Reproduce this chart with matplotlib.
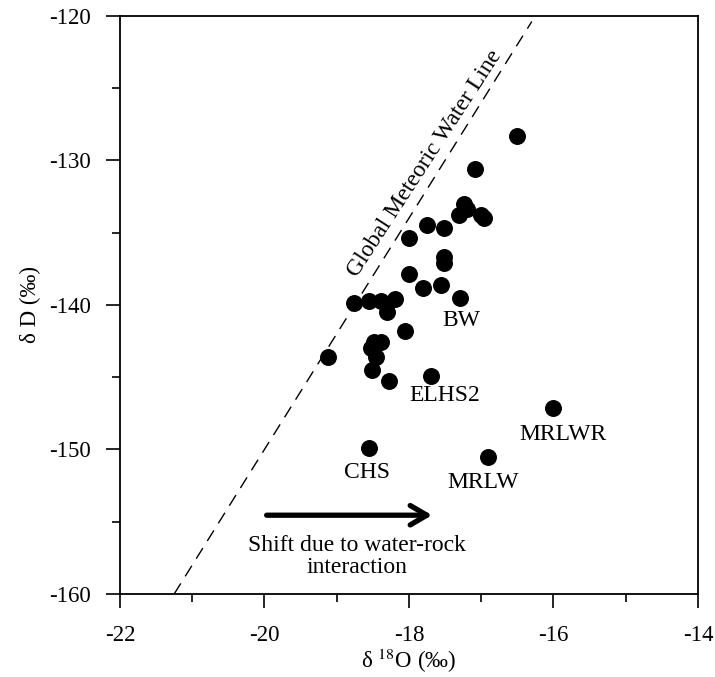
import numpy as np
import matplotlib
matplotlib.use("Agg")
import matplotlib.pyplot as plt
from matplotlib.ticker import MultipleLocator

plt.rcParams["font.family"] = ["Liberation Serif", "DejaVu Serif"]
plt.rcParams["mathtext.fontset"] = "stix"
plt.rcParams["axes.unicode_minus"] = False

# stable isotope samples (permil)
d18o = [-16.50, -17.09, -17.24, -17.20, -17.31, -17.00, -16.96, -17.51, -17.75,
        -18.00, -17.51, -17.51, -18.00, -17.80, -17.56, -17.30, -18.19, -18.39,
        -18.55, -18.76, -18.31, -18.05, -18.49, -18.39, -18.52, -18.45, -18.51,
        -19.12, -18.27, -17.70, -16.00, -18.56, -16.90]
dD = [-128.3, -130.6, -133.0, -133.4, -133.8, -133.8, -134.0, -134.7, -134.5,
      -135.4, -136.7, -137.1, -137.9, -138.8, -138.6, -139.5, -139.6, -139.7,
      -139.7, -139.9, -140.5, -141.8, -142.6, -142.6, -143.0, -143.6, -144.5,
      -143.6, -145.3, -144.9, -147.1, -149.9, -150.5]

# labelled samples: name, x, y of label
labels = ["BW", "ELHS2", "MRLWR", "CHS", "MRLW"]
label_x = [-17.27, -17.51, -15.87, -18.58, -16.97]
label_y = [-141.1, -146.3, -149.0, -151.6, -152.3]

# global meteoric water line dD = 8 d18O + 10
gmwl_x = np.array([-21.25, -16.3])
gmwl_y = 8 * gmwl_x + 10

fig = plt.figure(figsize=(7.15, 6.77), dpi=100)
ax = fig.add_axes([0.1678, 0.1226, 0.8084, 0.8542])

ax.plot(gmwl_x, gmwl_y, color="black", lw=1.0, linestyle=(0, (9, 6)))
ax.scatter(d18o, dD, s=125, color="black", zorder=3)

for name, lx, ly in zip(labels, label_x, label_y):
    ax.text(lx, ly, name, fontsize=17, ha="center", va="center")

ax.text(-17.78, -130.2, "Global Meteoric Water Line", fontsize=17,
        rotation=57, ha="center", va="center", rotation_mode="anchor")

ax.annotate("", xy=(-17.68, -154.55), xytext=(-19.97, -154.55),
            arrowprops=dict(arrowstyle="->,head_length=0.6,head_width=0.35",
                            lw=3.8, color="black", mutation_scale=20,
                            shrinkA=0, shrinkB=0))
ax.text(-18.72, -157.4, "Shift due to water-rock\ninteraction", fontsize=17,
        ha="center", va="center", linespacing=1.1)

ax.set_xlim(-22, -14)
ax.set_ylim(-160, -120)
ax.xaxis.set_major_locator(MultipleLocator(2))
ax.xaxis.set_minor_locator(MultipleLocator(1))
ax.yaxis.set_major_locator(MultipleLocator(10))
ax.yaxis.set_minor_locator(MultipleLocator(5))
ax.tick_params(which="major", direction="out", length=10, width=1.2, labelsize=16.5)
ax.tick_params(axis="x", which="major", pad=12)
ax.tick_params(axis="y", which="major", pad=11)
ax.tick_params(which="minor", direction="out", length=5.5, width=1.2)
for sp in ax.spines.values():
    sp.set_linewidth(1.3)

ax.set_xlabel(r"δ $^{18}$O (‰)", fontsize=16.5, labelpad=1)
ax.set_ylabel("δ D (‰)", fontsize=16.5, labelpad=6)

fig.savefig("out.png", dpi=100)
